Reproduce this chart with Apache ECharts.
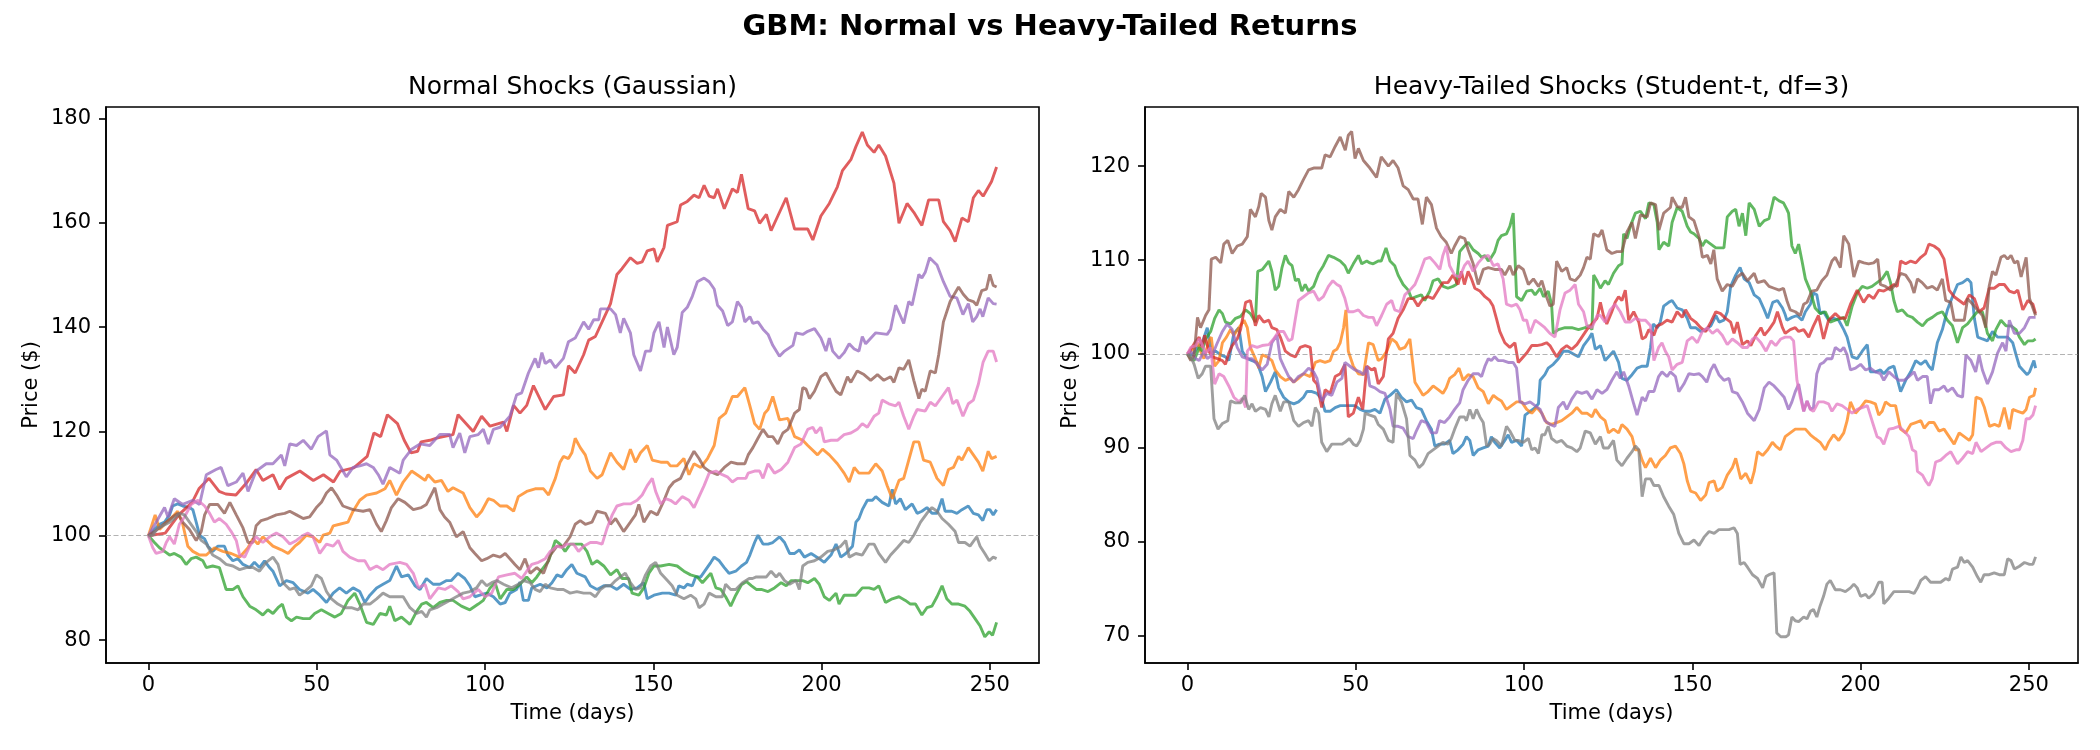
<!DOCTYPE html>
<html><head><meta charset="utf-8">
<script src="https://cdn.jsdelivr.net/npm/echarts@6/dist/echarts.min.js"></script>
<style>html,body{margin:0;padding:0;background:#fff}#c{width:2100px;height:750px}</style>
</head><body><div id="c"></div>
<script>
const dayTicks=[0,50,100,150,200,250];
const normalTicks=[80,100,120,140,160,180];
const heavyTicks=[70,80,90,100,110,120];
const seriesColors=['#1f77b4','#ff7f0e','#2ca02c','#d62728','#9467bd','#8c564b','#e377c2','#7f7f7f'];
const mainTitle='GBM: Normal vs Heavy-Tailed Returns';
const leftTitle='Normal Shocks (Gaussian)';
const rightTitle='Heavy-Tailed Shocks (Student-t, df=3)';

// Normal shocks: [day, price]
const nBlue=[[0,100],[1.8,101.2],[3.3,102.2],[4.8,102.6],[6.3,104],[7.2,105.7],[8.7,106.1],[10.2,105.7],[12.2,105.4],[13.2,105],[14.2,102.6],[15.2,100.1],[16.7,99.4],[17.7,98],[19.1,97],[20.6,98],[22.6,98],[23.6,96.3],[25.1,95.2],[26.6,95.6],[28.1,94.5],[30.1,93.9],[31.5,94.9],[33,93.9],[34.5,95.2],[36,93.9],[37,93.2],[39,90.4],[41,91.4],[43,91],[44.9,89.7],[47.4,89],[48.9,89.7],[50.9,88.6],[52.9,87.2],[54.9,89],[56.8,90],[58.8,89],[60.8,90],[62.8,89.3],[64.3,87.2],[65.8,88.6],[67.8,90],[69.7,90.7],[71.7,91.4],[73.7,94.2],[75.2,92.1],[77.2,92.5],[79.2,90.4],[80.7,89.7],[82.6,91.8],[84.6,90.7],[86.6,90.7],[88.6,91.4],[90,91.4],[92,92.8],[94,91.8],[95.5,90.4],[97,88.3],[98.5,88.6],[100.5,89],[102.5,88.3],[104.5,86.9],[106,87.2],[107.4,89],[109.4,89.7],[110.4,91.1],[111.4,87.6],[112.9,87.6],[113.9,90],[116.4,90.7],[118.4,90],[119.9,91],[121.4,92.5],[122.8,92.1],[124.3,93.5],[125.8,94.5],[127.3,92.8],[129.8,92.1],[131.3,90.4],[133.3,89.7],[135.3,90.4],[137.3,90.4],[139.2,89.7],[141.2,90.7],[143.2,89.7],[145.2,90],[147.2,91],[148.2,87.9],[150.2,88.6],[152.7,89],[154.7,89],[156.7,88.6],[157.6,90.4],[159.1,90],[160.1,90.7],[161.6,90.4],[162.6,92.1],[164.1,92.1],[165.6,93.5],[167.1,94.9],[168.1,95.9],[169.6,95.2],[171.1,93.9],[172.5,92.8],[174.5,93.2],[176.2,94.2],[177.7,94.9],[178.7,96.3],[180.1,98.7],[181.1,100.1],[182.6,98.4],[184.1,98.4],[185.5,98.7],[187.5,99.8],[189,98.7],[190.5,96.6],[192,96.6],[193.4,97.3],[194.9,95.9],[196.9,96.6],[199.3,95.6],[200.8,94.9],[202.8,96.3],[204.3,98.4],[205.7,95.9],[207.2,96.6],[209.2,98],[210.2,102.6],[211.1,103.3],[212.1,105],[213.6,106.8],[215.1,106.8],[216.1,107.5],[218,106.4],[220,105.7],[221,108.9],[222,106.1],[223.4,107.1],[224.9,105],[226.9,106.1],[228.4,104.3],[229.8,104.7],[231.3,105.4],[232.8,104.3],[234.3,104.3],[235.8,107.1],[236.7,104.7],[238.7,104.7],[240.2,104.3],[241.7,105],[243.6,105.7],[245.1,104.3],[246.6,104],[247.9,102.9],[249.1,105],[250,105],[251,104],[252,105]];
const nOrange=[[0,100],[1.3,102.6],[2,104],[3.3,101.2],[4.8,102.2],[6.7,103.3],[8.7,104.7],[10.2,102.2],[11.7,98],[13.2,97],[15.2,96.3],[17.2,96.3],[19.6,97.7],[22.1,97],[24.6,96.6],[27.1,95.9],[29.6,97.7],[31,99.4],[32.5,98.4],[34,99.8],[37,98],[39.5,97.3],[41.5,96.6],[43.5,98],[44.9,98.7],[46.9,100.1],[48.9,99.8],[50.9,98.7],[51.9,100.1],[53.9,100.5],[54.9,101.9],[56.8,102.2],[59.3,102.6],[60.8,104.7],[62.8,106.8],[64.8,107.8],[67.8,108.2],[70.3,109],[71.7,110.6],[73.7,107.8],[75.7,110.3],[78.2,112.4],[80.7,111.3],[82.2,110.6],[83.1,111.7],[85.1,110.3],[87.1,110.6],[89,108.5],[90.5,109.2],[93.5,108.2],[95.5,105.4],[97.5,103.6],[99,104.7],[101,107.1],[102.5,106.8],[104.5,105.7],[106.5,105.7],[108.5,104.7],[109.9,107.5],[112.4,108.5],[114.9,109],[117.4,109],[118.9,107.8],[120.9,111],[122.3,114.1],[123.3,115.2],[124.8,114.8],[125.8,115.9],[126.8,118.7],[128.3,116.9],[129.8,115.5],[131.3,112.4],[133.3,111],[134.8,111.7],[137.3,115.9],[139.2,114.1],[141.2,112.7],[143.2,116.6],[144.7,114.1],[146.2,115.9],[148.2,117.3],[149.7,114.5],[152.2,114.1],[154.2,114.1],[155.1,113.4],[157.1,113.4],[159.1,114.8],[160.6,111.7],[162.1,113.8],[164.1,113.1],[166.1,114.8],[168.1,117.3],[169.6,122.5],[171.5,123.5],[173.5,126.7],[175,126.7],[177.2,128.4],[178.7,124.9],[180.1,121.5],[181.6,120.4],[183.1,123.5],[184.1,124.2],[185.5,126.7],[187.5,122.2],[190,122.5],[192,119],[194.4,118.3],[195.9,117.3],[198.8,115.5],[200.3,116.6],[202.3,115.5],[204.7,113.8],[206.7,112],[208.2,110.3],[209.7,113.1],[211.1,112],[214.1,112],[216.1,113.8],[218,112.4],[219.5,109.6],[221,107.1],[223,110.6],[224.4,111],[225.9,114.5],[227.4,118],[228.9,118],[230.3,114.5],[232.3,114.1],[234.3,111],[236.2,109.6],[237.7,112.7],[239.2,113.1],[240.7,115.2],[241.7,114.5],[243.6,116.9],[245.1,115.5],[246.6,114.1],[247.9,112.4],[249.5,116.2],[250.5,114.8],[252,115.2]];
const nGreen=[[0,100],[1.8,98.7],[3.3,97.7],[4.8,97],[6.3,96.3],[7.7,96.6],[9.7,95.9],[11.2,94.5],[12.7,95.6],[14.2,95.9],[16.2,95.2],[17.2,93.9],[19.1,94.2],[21.1,93.9],[23.1,89.7],[25.1,89.7],[26.6,90.4],[28.1,88.3],[30.1,86.5],[32,85.8],[34,84.8],[35.5,85.8],[37,85.1],[38.5,86.2],[39.8,86.9],[41,84.4],[42.5,83.7],[44,84.4],[46,84.1],[47.9,84.1],[49.4,85.1],[51.4,85.8],[53.4,85.1],[55.4,84.4],[57.3,85.1],[59.3,87.6],[61.3,89],[62.8,86.9],[64.8,83.4],[66.8,83],[68.8,85.1],[70.7,84.8],[71.7,86.5],[73.2,83.7],[75.2,84.4],[77.7,83],[79.7,85.5],[81.2,86.9],[82.6,87.2],[84.6,86.2],[86.6,87.2],[88.6,87.6],[90.5,87.6],[93,86.5],[95.5,85.8],[98,86.9],[99.5,87.6],[101.5,90],[103,91],[104.5,87.9],[106.5,89.7],[108.5,89.7],[110.4,90.7],[112.4,92.1],[113.9,91],[115.4,92.1],[116.9,93.5],[118.9,95.2],[120.9,99.1],[122.3,98.4],[123.8,97],[125.3,98.4],[126.8,98.4],[128.7,98.4],[130.3,97],[131.8,94.5],[133.3,95.2],[135.3,94.2],[137.3,92.5],[139.2,93.5],[140.7,91.8],[142.7,91.8],[143.7,89],[145.7,88.6],[147.2,90],[148.7,92.8],[150.2,94.2],[152.2,94.2],[154.7,94.5],[157.1,94.2],[159.1,93.2],[161.1,92.5],[163.1,92.1],[164.6,91],[166.1,92.1],[167.1,92.8],[168.6,90],[170.1,89.7],[171.5,88.3],[173,86.5],[174.5,88.6],[176.2,90.6],[177.7,91.2],[179.2,90.4],[180.6,89.7],[182.1,89.7],[184.1,89.3],[186,90],[188,91],[189.5,90.4],[191,91.4],[192.9,91.4],[194.4,91.4],[195.9,91],[197.9,91.8],[199.3,90.7],[200.8,88.3],[202.3,87.6],[203.3,88.3],[204.3,89],[205.2,86.9],[206.7,88.6],[208.7,88.6],[210.2,88.6],[212.1,90],[214.1,90],[215.6,89.7],[217,90.4],[219,87.2],[221,87.9],[223,88.3],[224.9,87.6],[226.4,86.9],[227.9,86.9],[229.8,84.8],[231.3,86.2],[232.8,86.5],[234.3,88.3],[235.8,90.4],[237.2,87.9],[238.7,86.9],[240.7,86.9],[242.6,86.5],[244.1,85.5],[245.6,84.1],[247.1,82.7],[248.5,80.6],[249.8,81.6],[250.8,80.9],[252,83.4]];
const nRed=[[0,100],[5,100.5],[9,104],[13,106.4],[15,109],[18,111],[21,108.5],[23,108],[26,107.8],[29,110],[32,112.7],[34,110.6],[37,111.7],[39,108.9],[41,111],[45,112.4],[49,110.6],[52,111.7],[55,110.3],[57,112.4],[61,113],[65,115.2],[67,119.7],[69,119],[71,123.2],[74,121.5],[76,118.3],[78,115.9],[80,116.2],[81,118],[83.6,118.3],[85.6,118.7],[90.5,119.4],[92,123.2],[96.5,120],[99,122.9],[101.5,121],[105.5,121.8],[106.5,120],[108.5,125],[110.4,123.5],[112.4,125],[114.4,128.8],[117.9,124.2],[120.4,126.7],[123.3,127],[124.8,132.6],[126.8,131.2],[129.3,134.7],[130.8,137.5],[132.8,138.2],[134.8,141],[137.3,144.5],[139.2,150.1],[140.7,151.2],[143.2,153.3],[145.2,152.2],[146.7,152.5],[148.2,154.6],[150.2,155],[151.2,152.5],[153.2,155.3],[154.2,159.5],[157.1,160.2],[158.1,163.4],[160.1,164.1],[162.1,165.3],[163.6,164.8],[165.1,167.2],[166.6,165.1],[168.1,164.8],[169.1,166.5],[171.1,162.7],[173.5,166.5],[175,165.8],[176.2,169.3],[178.2,162.7],[180.1,162.3],[181.6,159.9],[183.6,161.6],[185,158.5],[187,161.3],[189.5,164.8],[192,158.8],[195.9,158.8],[197.4,156.7],[199.8,161.3],[202.3,163.7],[204.7,166.9],[206.2,170],[208.7,172.1],[210.2,174.6],[212.1,177.4],[213.6,174.9],[215.6,173.5],[217,174.9],[219,172.8],[221.5,167.6],[223,159.9],[225.4,163.7],[227.4,162],[229.8,159.5],[231.8,164.4],[234.8,164.4],[236.2,160.2],[238.2,158.5],[239.7,156.4],[241.7,160.9],[243.6,160.2],[245.1,164.8],[246.6,166.2],[248,165.1],[250.5,167.9],[252,170.7]];
const nPurple=[[0,100],[2.3,102.6],[4.8,105.4],[5.8,103.6],[7.7,107.1],[10.2,106],[13.2,106.8],[15.2,106],[17.2,111.7],[20.1,112.7],[21.6,113.1],[23.6,109.6],[26.1,110.3],[28.1,112],[29.6,108.5],[32,112.4],[35,113.8],[37,113.8],[39.5,115.5],[40.5,113.4],[42,117.6],[44,117.3],[46,118.3],[48.4,116.6],[50.4,119],[52.9,120.1],[53.9,115.5],[55.9,114.5],[58.8,111.3],[60.8,113.1],[62.8,113.4],[64.8,113.8],[66.8,113.1],[68.3,111.7],[69.7,109.9],[71.7,113.1],[74.7,112],[75.7,114.5],[78.2,116.6],[80.7,117.6],[83.6,117.3],[86.6,119.4],[89.5,119.4],[90.5,116.9],[92.5,119.7],[94,115.9],[95.5,119],[98,119.4],[99.5,120.4],[101,117.6],[102.5,120.4],[104.5,120.8],[107.4,122.9],[109.4,127],[110.9,127.4],[112.9,131.2],[114.9,134],[115.9,132.2],[116.9,135.1],[117.9,133],[119.4,133.7],[120.9,132.2],[123.3,134],[124.8,137.2],[126.8,137.9],[129.3,141],[130.8,139.6],[132.3,141.4],[133.8,141.4],[134.3,143.5],[137.3,143.5],[138.8,142.4],[140.2,138.9],[141.2,141.7],[143.2,138.9],[144.2,134.7],[146.2,131.6],[147.7,135.4],[149.2,135.4],[150.2,138.9],[151.7,141],[153.2,136.1],[154.2,140],[156.1,134.7],[157.1,136.1],[158.6,142.8],[160.1,143.8],[161.6,145.9],[163.1,148.7],[165.1,149.4],[166.6,148.7],[168.1,147.3],[169.1,144.2],[170.6,143.1],[172.1,140.3],[173.5,141],[175,144.9],[176.2,143.8],[177.2,141],[178.7,142],[179.6,140.7],[181.1,141],[182.6,139.6],[184.1,138.6],[185.5,136.5],[187.5,134.4],[189,135.4],[191.5,136.5],[192.4,138.9],[194.4,138.6],[195.9,139.2],[197.9,139.7],[199.8,137.9],[201.3,135.4],[202.3,137.9],[203.3,135.4],[205.2,134],[206.7,135.1],[208.2,136.8],[209.7,135.8],[211.1,135.4],[212.1,138.2],[213.1,136.8],[216.1,138.9],[219.5,138.6],[220.5,139.6],[222,144.2],[223,142.8],[224.4,140.7],[225.9,144.9],[226.9,144.2],[228.9,150.1],[229.8,149.4],[230.8,150.5],[232.1,153.3],[234.3,151.9],[236.2,148.7],[238.2,145.9],[240.2,145.6],[242,142.4],[243.6,144.5],[244.9,141],[246.1,142],[247.1,143.5],[247.9,142],[249.5,145.6],[251,144.5],[252,144.4]];
const nBrown=[[0,100],[1.8,100.8],[3.3,101.5],[5.3,102.6],[7.2,103.6],[8.7,104.3],[10.2,102.6],[12.2,101.2],[14.2,99.1],[15.7,100.8],[16.7,104],[18.2,106],[20.6,106],[22.6,104.3],[24.2,106.4],[26.1,104],[28.1,101.5],[29.6,98.7],[31,98.7],[32,101.9],[33.5,102.9],[35.5,103.3],[38,104],[40.5,104.3],[42,104.7],[44,104],[46,103.3],[47.9,103.6],[49.9,105.4],[51.4,106.4],[52.9,108.2],[54.4,109.2],[55.9,107.8],[57.8,105.7],[60.8,105],[63.8,104.7],[65.8,105],[67.8,102.2],[69.2,100.8],[70.7,102.9],[72.2,105.4],[74.2,107.1],[76.2,106.4],[78.7,105],[81.1,105.4],[82.6,106],[85.1,109.2],[86.6,105],[88,103.6],[89.5,102.6],[91.5,99.8],[93.5,100.8],[95.5,97.7],[97,96.6],[99,95.2],[100.5,95.6],[102.5,96.3],[104.5,95.9],[106,96.6],[107.4,95.6],[108.9,94.5],[110.4,93.5],[111.9,95.6],[113.4,92.8],[115.4,93.9],[117.4,92.8],[119.4,96.3],[121.4,98],[123.3,98],[125.3,99.8],[126.8,102.2],[128.3,102.9],[129.8,102.2],[131.8,102.6],[133.3,104.7],[135.8,104.3],[137.3,102.2],[138.8,103.3],[141.2,100.8],[143.2,102.6],[144.7,104],[145.7,106],[147.2,102.6],[149.2,104.7],[151.2,104],[153.2,106.8],[154.7,109.2],[156.1,110.3],[158.1,111],[160.1,113.8],[162.1,116.2],[163.6,114.8],[165.1,113.1],[166.6,112.4],[169.1,111.7],[171.1,113.1],[173.1,114.1],[175,113.8],[177.2,113.8],[178.2,115.5],[179.6,116.9],[181.1,118.7],[182.6,120.4],[184.1,119],[185.5,119],[187,117.6],[188.5,119.7],[190,120.4],[192,123.5],[193.4,124.2],[194.4,128.4],[195.4,128.1],[196.4,126.3],[197.9,127.7],[199.8,130.5],[201.3,131.2],[202.8,129.4],[204.3,127.7],[205.7,127],[207.7,130.5],[208.7,129.4],[210.6,131.6],[212.6,130.9],[214.6,129.8],[216.6,130.9],[218.5,129.8],[220.5,130.5],[221.5,129.4],[223,132.2],[224.4,131.9],[225.9,133.7],[227.4,129.8],[228.9,126.3],[229.8,128.1],[230.8,127.7],[232.3,131.6],[233.8,131.2],[234.8,134.7],[236.2,141],[238.2,144.9],[239.7,146.6],[240.7,147.7],[242.1,146.3],[243.6,145.2],[245.1,144.9],[246.1,144.2],[247.6,147],[249,147.3],[250,150.1],[251,148],[252,147.7]];
const nPink=[[0,100],[1.3,97.7],[2.3,96.6],[4.3,97],[5.3,98.7],[6.3,99.8],[7.7,98.4],[9.2,102.2],[10.7,103.6],[12.7,106],[14.7,106.8],[16.7,105.7],[18.2,104.3],[19.6,102.6],[21.1,103.3],[23.1,102.2],[24.6,100.8],[26.1,99.1],[27.1,96.3],[28.6,95.9],[30.1,98],[32,99.8],[34,98.7],[36,99.8],[38,100.5],[40,99.8],[42,98.4],[44,99.1],[46,100.1],[47.4,100.5],[48.9,99.8],[50.9,96.6],[52.9,98.4],[54.9,98],[56.4,99.1],[57.8,97],[59.8,95.9],[62.3,95.2],[64.3,95.2],[65.8,93.5],[67.8,94.2],[69.7,93.5],[71.7,94.5],[74.7,94.9],[76.7,94.5],[78.7,92.8],[80.2,90],[82.2,90.7],[83.6,87.9],[86.1,90],[88.1,89.7],[90,90.4],[92,89.3],[93.5,87.9],[95.5,88.3],[98,89.7],[100,88.3],[102,89],[104,92.1],[106.5,92.5],[108.9,92.8],[110.9,91.8],[112.4,93.2],[113.9,94.5],[115.9,94.9],[117.9,95.6],[119.4,97],[121.4,98],[122.8,97.7],[124.3,98.4],[126.3,98.4],[127.8,97],[129.3,98],[131.3,98.7],[133.3,98.7],[134.8,98.4],[136.3,101.5],[137.8,104],[139.2,105.7],[141.2,106.1],[143.2,106.1],[145.2,106.8],[146.7,107.8],[148.2,109.6],[149.7,111],[150.7,108.5],[152.2,106.1],[153.7,107.1],[155.1,106.8],[156.6,106.1],[158.6,107.5],[160.6,106.8],[162.1,105.4],[163.6,107.5],[165.1,109.6],[166.6,112],[168.6,112.4],[170.5,111.7],[172,111.3],[173.5,110.3],[175,111],[177.5,111],[178.2,112],[180.1,112.4],[181.6,112.4],[182.6,111],[184.1,113.8],[186,112],[188,112.7],[190,114.1],[192,116.9],[193.9,117.6],[195.9,120.4],[197.4,120.8],[198.3,119.7],[199.8,120.8],[200.8,118],[202.8,118.3],[204.7,118.3],[206.7,119.4],[208.7,119.7],[210.6,120.4],[212.1,121.5],[213.6,120.8],[215.6,122.9],[217,123.5],[218,126],[220,125.3],[222,124.9],[223,125.6],[224.4,122.9],[225.9,120.4],[227.4,122.9],[228.4,124.2],[230.8,123.9],[232.3,125.6],[233.8,124.9],[235.8,126.7],[237.7,128.4],[239,125.3],[240.2,126],[242,122.9],[243.6,125.3],[245.1,126],[246.6,129.1],[248,133.3],[249.5,135.4],[251,135.4],[252,133.3]];
const nGray=[[0,100],[1.3,100.1],[2.8,101.5],[4.3,101.9],[6.3,102.6],[7.7,103.3],[9.2,104.3],[10.7,104],[12.2,102.6],[14.2,100.8],[15.7,99.1],[17.2,98.4],[19.1,96.3],[21.1,95.6],[23.1,94.5],[25.1,94.2],[27.1,93.5],[29.1,93.9],[31.1,93.9],[33,93.2],[35,94.9],[37,95.9],[38.5,94.5],[40,91],[42,89.7],[43.5,90],[44.9,88.6],[46.4,89.3],[48.4,90.4],[49.9,92.5],[51.4,91.8],[52.9,89.3],[54.4,87.9],[56.3,86.9],[58.3,86.2],[60.3,86.2],[62.3,85.8],[63.8,86.9],[65.8,86.9],[67.8,87.9],[69.7,89],[71.7,88.3],[73.7,88.3],[75.7,88.3],[77.7,86.2],[79.7,85.1],[81.2,85.5],[82.6,84.4],[83.6,85.8],[85.6,86.2],[87.6,86.9],[89.5,87.6],[91.5,88.3],[93.5,89],[95.5,89.3],[97.5,90],[99,91.4],[100.5,90.4],[102,91],[103.5,91.4],[105.5,90.7],[107.9,90],[109.9,90.7],[111.4,91.4],[113.4,91],[114.9,89.7],[116.4,89.3],[117.9,90.7],[119.4,90],[121.4,89.7],[123.3,89.7],[125.3,89],[127.3,89.3],[129.3,89],[131.3,89],[132.8,88.3],[134.3,89.7],[135.8,90.4],[137.3,90.4],[138.8,91.4],[140.2,92.1],[141.7,92.8],[143.2,91],[144.7,89.7],[146.2,90],[147.7,92.5],[149.2,94.2],[150.7,94.9],[152.2,92.8],[154.2,91.4],[155.6,90.4],[157.1,88.6],[159.1,87.9],[161.1,88.6],[162.6,87.9],[163.6,86.2],[165.1,86.9],[166.6,89],[168.6,88.3],[170.5,88.3],[171.5,90.7],[173,89.7],[174.5,89.7],[176.5,91],[178.5,91.8],[179.5,91.8],[180.6,92.1],[182.1,92.1],[183.6,92.1],[185,93.2],[186.5,92.1],[187.5,92.8],[189,91.4],[190.5,90.7],[192.4,91.4],[193.4,89.7],[194.4,94.2],[195.9,94.9],[197.9,95.2],[199.8,95.9],[201.8,97],[203.8,97.3],[205.7,98],[207.2,99.1],[208.2,95.9],[210.2,96.6],[212.1,96.3],[214.1,98.4],[215.6,98.4],[217,96.6],[219,94.9],[220.5,96.3],[222.5,97.7],[224.4,99.1],[225.9,98.7],[227.4,100.1],[229.4,102.6],[231.3,104.3],[232.8,105.4],[234.3,104.7],[235.8,103.3],[237.7,102.2],[239.7,100.8],[240.7,98.7],[242.6,98.7],[244.1,98],[246.1,99.8],[247.1,98],[248.5,96.6],[249.8,95.2],[251,95.9],[252,95.6]];

// Heavy-tailed shocks: [day, price]
const tBlue=[[0,100],[1.5,99.9],[3,100.7],[4.4,101.2],[5.9,102.8],[7.1,100.1],[8.4,100.3],[9.9,99.9],[11.3,99.7],[12.3,99.3],[13.8,102.2],[15.3,102.8],[16.3,100.3],[17.8,99.5],[19.2,99.3],[20.7,99.1],[22.2,97.6],[23.2,96],[24.7,97],[26.1,98.1],[27.1,96.4],[28.6,95.4],[30.1,94.9],[31.6,94.7],[33,94.9],[34.5,95.4],[35.5,96],[37,96],[38.5,95.8],[39.9,95.2],[40.9,93.9],[42.4,93.9],[43.9,94.3],[45.4,94.5],[46.8,94.5],[48.3,94.5],[49.8,94.5],[51.3,94.1],[52.8,93.9],[54.2,93.9],[55.7,94.1],[57.2,93.7],[58.7,95.2],[60.2,95.6],[62.1,96.2],[63.6,95.4],[65.1,94.9],[66.6,95.1],[68,94.3],[69.5,94.1],[71,92.9],[72.5,92],[73.5,90.2],[74.9,90.4],[76.4,90.4],[77.9,90.8],[78.9,89.4],[80.4,89.8],[81.9,90.4],[82.9,91.2],[83.9,90.8],[84.9,89.2],[86.4,89.8],[87.9,90],[89.4,90.2],[90.3,91.2],[91.3,90.6],[92.8,90],[94.3,90.8],[95.3,91.4],[96.3,90.6],[97.8,90.8],[99.3,90.2],[100.3,93.5],[101.8,93.9],[103.3,94.3],[104.3,94.7],[104.8,97.2],[106.2,97.8],[107.2,98.5],[108.7,98.9],[110.2,99.5],[111.7,100.3],[113.2,100.3],[115.2,99.9],[116.2,99.7],[117.7,100.9],[119.2,101.6],[120.2,102.2],[121.2,100.5],[122.7,100.9],[124.1,99.3],[125.6,99.9],[126.6,100.3],[128.1,99.1],[129.1,97.4],[130.6,97.2],[132.1,97.8],[133.6,98.5],[135.1,98.7],[136.6,98.7],[137.6,100.7],[138.4,103.2],[139.6,102.8],[140.5,103.4],[141.5,105.1],[143,105.5],[144,105.7],[145.5,104.9],[147,104.7],[148.5,103.8],[149.5,102.8],[151,102.8],[152.5,102.4],[154,102.6],[155.5,103],[157,104.1],[158,103.4],[159.4,103.6],[160.4,104.5],[161.4,107.2],[162.9,108.4],[164.2,109.2],[165.4,108],[166.9,107.6],[168.4,106.3],[169.9,105.9],[171.4,104.7],[172.4,103.8],[173.9,105.5],[175.3,105.7],[176.8,104.9],[177.6,104.2],[178.1,103.6],[179.6,103.9],[181.1,104.1],[182.6,103.6],[183.6,104.5],[185.1,105.3],[186,106.5],[187,106.3],[188,104.3],[189,104.5],[190.5,103.6],[192,103.8],[193.5,103.6],[195,102.6],[196,101.8],[197.5,99.7],[199,99.5],[200.5,100.3],[202,101],[202.9,98.1],[204.4,98.1],[205.9,98.3],[206.9,97.9],[208.4,98.5],[209.9,98.7],[211.9,96],[213.4,97.2],[214.9,98.1],[216.4,99.3],[217.9,98.9],[219.3,99.3],[220.3,98.7],[221.3,98.3],[222.8,101.2],[224.3,102.6],[225.8,104.7],[227.3,106.1],[228.8,107.4],[230.3,107.6],[231.8,108],[232.8,107.6],[233.8,103.8],[234.8,101.8],[236.2,101.6],[237.7,101.4],[239.2,102.4],[240.7,101.8],[242.2,101.8],[243.7,101.8],[245.2,101.2],[246.2,99.9],[247.2,98.7],[248.2,98.3],[249.5,97.8],[250.2,98.1],[251.5,99.3],[252,98.5]];
const tOrange=[[0,100],[1,100.3],[2,100.7],[3,101.2],[3.9,100.3],[4.9,99.5],[6.4,101.4],[7.1,101.8],[8.1,98.7],[9.4,99.3],[10.4,101.2],[11.6,101.8],[12.8,102.6],[13.8,102],[15.3,102.8],[16.8,103.6],[17.8,102.8],[18.7,100.7],[20.2,99.5],[21.2,98.5],[22.2,99.9],[23.7,99.7],[25.1,99.3],[26.1,98.3],[27.6,97.6],[29.1,97.2],[30.6,97.4],[31.6,97],[33,97.4],[34.5,97.9],[36.5,97.6],[38,99.1],[39.4,99.3],[40.9,99.1],[42.4,99.3],[43.4,100.3],[44.4,100.5],[45.4,101.2],[46.4,102.8],[47.1,104.7],[47.8,100.3],[49.3,98.7],[50.8,97.9],[52.3,97.8],[53.8,101.2],[55.2,101],[56.7,99.3],[57.7,99.5],[59.2,100.3],[60.7,101.6],[62.1,101.2],[63.1,100.5],[64.6,100.7],[66.1,101.6],[67.6,97],[69,96.2],[70,95.6],[71.5,96],[73,96.6],[74.5,96.2],[75.9,95.8],[76.9,96.4],[77.9,97.4],[79.4,97.8],[80.7,98.5],[81.9,97.2],[83.4,97.8],[84.9,97.6],[86.4,96.4],[87.9,96],[89.4,94.7],[90.9,95.6],[92.3,95.2],[93.3,95],[94.8,94.1],[96.3,94.5],[97.8,94.9],[99.3,94.9],[100.8,94.1],[102.3,93.7],[103.8,94.3],[105.3,93.7],[106.7,92.7],[108.2,92.5],[109.7,92.7],[111.2,92.9],[112.7,93.3],[114.2,93.7],[115.7,94.3],[117.2,93.7],[118.7,93.7],[120.2,93.3],[121.2,94.1],[122.7,93.3],[124.1,92.9],[125.1,91.6],[126.6,92],[128.1,91.6],[129.1,92.5],[130.6,92],[132.1,91.2],[133.1,89.8],[134.1,89.8],[135.1,88.7],[136.1,87.9],[137.6,88.9],[139.1,87.9],[140.5,88.7],[142,89.2],[143.5,90],[145,90.2],[146.5,89.4],[147.5,88.3],[148.5,86.5],[149.5,85.4],[151,85.2],[152.5,84.4],[154,85],[155,86.3],[156.5,86.5],[157.4,85.4],[158.9,85.8],[160.4,87.1],[161.9,87.9],[162.9,88.9],[164.4,86.7],[165.9,87.3],[167.4,86.2],[168.4,87.5],[169.4,89.6],[170.9,89.2],[172.4,89.8],[173.8,90.6],[174.8,90.2],[176.2,89.8],[177.6,91.2],[179.1,91.6],[180.6,92],[182.1,92],[183.6,92],[185.1,91.4],[186.5,91],[188,90.6],[189.5,89.8],[190.5,90.6],[192,91.4],[193.5,90.8],[195,91.6],[196,92.9],[197,94.9],[198.5,93.7],[200,94.3],[201.5,95],[202.9,94.9],[204.4,94.7],[205.4,93.5],[206.4,93.9],[207.4,94.9],[208.9,94.5],[210.4,94.5],[211.9,92],[213.4,91.6],[214.9,92.5],[216.4,92.7],[217.9,92.9],[218.9,92.1],[220.3,92.7],[221.8,92.7],[223.3,91.8],[224.8,92],[226.3,91.2],[227.8,90.4],[229.3,91.6],[230.8,91.2],[232.3,90.8],[233.3,91.4],[234.3,95.4],[235.8,95.2],[236.8,94.3],[238.3,92.3],[239.8,92.5],[241.2,92.3],[242.7,94.3],[244.2,92],[245.2,94.1],[246.7,93.9],[248.2,93.7],[249.2,94.1],[250.2,95.4],[251.5,95.6],[252,96.4]];
const tGreen=[[0,100],[1,99.5],[2,99.3],[3.5,100.7],[4.4,100.3],[5.4,101.6],[6.9,102.4],[8.1,103.8],[9.4,104.7],[10.4,104.3],[11.3,103.4],[12.8,103.2],[14.3,103.8],[15.8,104],[17.3,104.7],[18.7,104.3],[20.2,103.4],[20.9,108.8],[22.3,109],[24.2,109.9],[25.1,108.8],[26.1,106.8],[27.1,107.2],[28.1,109.2],[29.1,110.5],[30.1,109.7],[31.1,109.4],[32.1,107.8],[33,108],[34,106.7],[35,107.4],[36,106.7],[37.5,107.2],[39,108.6],[40.4,109.4],[41.9,110.5],[43.4,110.3],[45.4,109.9],[46.8,109.4],[47.8,108.6],[49.3,109.6],[50.8,110.5],[51.8,109.6],[53.3,109.9],[54.2,109.7],[55.2,109.6],[56.7,109.9],[57.6,109.9],[59,111.3],[60.2,109.9],[61.6,109.4],[62.6,108.4],[64.1,107.4],[65.6,106.8],[66.6,105.9],[68,106.1],[69.5,106.3],[70.5,105.7],[72,106.7],[73,107.8],[74.5,108],[76,107.2],[77.4,107],[78.9,107.2],[79.9,107.4],[80.9,110.9],[82.3,111.5],[83.4,111.9],[84.9,111.1],[86.4,110.7],[87.4,110.3],[88.4,110.5],[89.4,109.9],[90.3,110.3],[91.3,110.9],[92.3,112.1],[93.3,112.6],[94.8,112.8],[95.8,113.6],[96.8,115],[97.8,106.1],[99.3,105.7],[100.8,106.7],[102.3,106.8],[103.3,106.3],[104.8,107],[105.8,106.1],[107.2,106.7],[108.2,105.3],[108.7,102.2],[110.2,102.6],[112.2,102.8],[114.2,102.8],[116.2,102.6],[118.2,102.8],[119.2,103],[120.2,102.6],[120.7,108.4],[121.7,107.8],[122.7,107],[124.1,107.8],[125.1,107.4],[126.6,108.6],[128.1,109.4],[129.1,109.6],[129.6,112.8],[130.6,112.3],[131.6,113.6],[133.1,115],[134.6,115.2],[136.1,114.4],[137.1,116.1],[138.6,115.9],[139.6,114],[140.1,111.1],[141.5,111.9],[143,111.5],[144,114],[145.5,115.6],[147,115.2],[148.5,113.6],[149.5,113],[150.5,112.8],[152,112.3],[153,111.5],[154,112.1],[155.5,111.7],[157,111.3],[159.4,111.3],[160.4,114.6],[161.9,115.2],[162.9,115.4],[163.9,113.6],[164.9,115],[165.9,112.6],[166.9,116.1],[168.4,115.4],[169.9,113.6],[171.4,114.2],[172.8,114.4],[174.3,116.7],[175.8,116.3],[177.1,116.1],[178.1,115.4],[178.6,115],[179.6,111.5],[180.6,110.7],[181.6,111.7],[182.6,109.9],[183.6,108],[185.1,106.7],[186.5,104.9],[188,104.3],[189.5,104.5],[191,103.4],[192.5,103.6],[194,103.8],[195,103.9],[196,103],[197.5,105.1],[199,106.5],[200.5,107.2],[202,107],[203.4,107.2],[204.9,107.6],[206.4,108],[207.9,108.8],[208.9,107.6],[209.9,105.7],[210.9,104.5],[212.4,104.7],[213.9,104.1],[215.4,103.9],[216.9,103.4],[218.4,103],[219.8,103.6],[221.3,103.9],[222.8,104.3],[224.3,104.5],[225.8,103.6],[227.3,103],[228.8,101.2],[230.3,102.8],[231.8,103.2],[233.3,103.9],[234.7,104.5],[236.2,104.5],[237.7,102.2],[239.2,101.4],[240.2,102.6],[241.7,103.6],[243.2,103],[244.7,103],[246.2,102.6],[247.2,101.8],[248.7,101],[249.7,101.4],[251.2,101.4],[252,101.6]];
const tRed=[[0,100],[1,100.5],[2.2,101.2],[3.5,101.8],[4.4,100.7],[5.1,102],[6.4,100.3],[7.4,99.7],[8.9,99.5],[10.4,99.3],[11.3,98.9],[12.3,100.1],[13.3,100.9],[14.8,101.6],[15.8,102.6],[17.3,105.5],[18.7,105.7],[20.2,103],[21.2,104.1],[22.7,103.4],[24.2,103.6],[25.1,102.8],[26.6,102.6],[27.6,101.8],[29.1,100.3],[30.6,99.9],[32.1,99.7],[33.5,100.7],[35,100.9],[36.5,100.7],[37.5,97.2],[38.5,96.8],[39.9,94.3],[40.9,96.2],[42.4,95.8],[43.9,97.6],[45.4,97.9],[46.8,98.9],[47.8,93.3],[49.3,93.7],[50.8,95.4],[52.1,94.1],[53.3,98.7],[54.7,98.3],[55.7,98.5],[56.7,96.8],[58.2,97.6],[59.7,101.6],[61.1,102.2],[62.6,103.8],[64.1,104.7],[65.6,105.9],[67.1,105.9],[68.5,105.1],[70,105.9],[71.5,106.1],[73,105.9],[74.5,106.8],[75.9,107.6],[77.4,107.6],[78.9,108.4],[80.4,107.4],[81.4,108.8],[82.3,107.4],[83.4,108.8],[84.4,108],[85.4,107],[86.9,106.7],[88.4,106.1],[89.8,105.7],[90.8,105.1],[91.8,103.8],[92.8,102.4],[94.3,101.2],[95.8,100.7],[97.3,101.2],[98.3,99.1],[99.3,99.5],[100.8,100.1],[102.3,100.9],[103.8,100.9],[105.3,101],[106.7,101.2],[107.7,100.9],[108.7,100.3],[109.7,99.7],[111.2,100.5],[112.7,100.9],[114.2,100.5],[115.7,101],[117.2,101.8],[118.7,102.6],[120.2,103.2],[121.7,103.8],[122.7,105.5],[123.6,104.1],[124.6,103.2],[126.1,104.5],[127.1,105.5],[128.1,106.1],[129.1,105.7],[130.1,106.8],[131.1,103.6],[132.6,104.5],[134.1,103.4],[135.1,101.6],[136.1,101.8],[137.1,102.6],[138.6,102],[139.6,103],[141,103.2],[142.5,103.6],[144,103.4],[145.5,104.5],[147,103.9],[148,104.7],[149.5,103.8],[151,103.4],[152.5,102.8],[154,102.4],[155.5,103.4],[157,104.5],[158.4,104.3],[159.9,103.8],[161.4,103.4],[162.4,102.2],[163.4,103.4],[164.9,101],[166.4,101.4],[167.4,100.9],[168.9,102],[170.4,102.8],[171.4,102],[172.8,102.6],[174.3,103.4],[175.3,104.5],[176.8,102.8],[177.6,102.2],[179.1,102.6],[180.6,102.8],[181.6,102.4],[183.1,102.6],[184.6,101.8],[186,103],[187.5,104.1],[189,101.6],[190.5,103.6],[192.5,104.3],[194,103.8],[195.5,103.8],[197,105.3],[199,106.8],[200.9,105.5],[202.4,106.3],[203.9,105.9],[205.4,106.8],[206.9,106.7],[208.4,107],[209.9,107.4],[210.9,107.2],[211.9,109.9],[213.4,109.6],[214.9,109.9],[216.4,109.7],[217.9,110.3],[219.3,110.7],[220.3,111.7],[221.8,111.5],[223.3,111.1],[224.8,110.1],[226.3,106.8],[227.8,106.1],[229.3,105.7],[230.8,105.3],[232.3,106.3],[233.8,105.9],[235.2,104.5],[236.7,104.9],[238.2,107],[239.7,107],[241.2,107.4],[242.7,107.4],[244.2,106.7],[245.7,106.5],[246.7,106.8],[248.2,104.7],[249.7,105.7],[251.2,105.3],[252,104.3]];
const tPurple=[[0,100],[1,100.3],[2.5,99.5],[3.5,99.3],[4.9,100.3],[5.9,99.5],[7.4,99.9],[8.9,101.2],[10.4,102.4],[11.8,103.2],[13.3,102.6],[14.8,100.7],[16.3,99.7],[17.8,99.5],[19.2,99.5],[20.7,98.9],[22.2,98.3],[23.7,98.9],[25.1,101.2],[26.6,102],[27.6,99.5],[28.6,98.7],[30.1,97.6],[31.6,97],[33,97.6],[34.5,97.9],[36,98.5],[37.5,98.1],[38.5,97.4],[39.9,95],[41.4,95.8],[42.9,95.6],[44.4,97],[45.9,97.4],[46.8,99.1],[48.3,98.7],[49.8,98.3],[51.3,98.1],[52.3,97.8],[53.3,98.7],[54.2,96.6],[55.7,96.4],[57.2,96],[58.7,95.8],[60.2,94.1],[61.1,92.3],[62.6,92.3],[64.1,92.1],[65.6,91.2],[67.1,91],[68,91.8],[69.5,92.9],[71,92.7],[72.5,91.6],[74,91.6],[74.9,92.9],[76.4,92.7],[77.9,93.3],[79.4,94.1],[80.9,94.8],[81.9,96.2],[83.4,97.2],[84.9,97.9],[86.4,97.9],[87.4,97.6],[88.4,98.7],[89.4,99.5],[90.3,99.3],[91.3,99.7],[92.3,99.3],[93.8,99.3],[95.3,99.1],[96.8,99.1],[97.8,98.5],[98.8,94.9],[100.3,94.7],[101.8,94.9],[103.3,94.5],[104.8,94.1],[106.2,92.9],[107.7,92.5],[109.2,92.3],[110.2,94.3],[111.7,94.9],[112.7,94.1],[114.2,95.2],[115.7,96],[117.2,95.8],[118.7,96],[120.2,95.2],[121.7,96.2],[123.2,95.8],[124.6,96.2],[126.1,97.2],[127.6,98.1],[128.6,97.4],[129.6,98.1],[131.1,96.6],[132.6,94.7],[133.6,93.5],[135.1,95.4],[136.1,95],[137.1,96],[138.6,96],[140,97.6],[141,98.1],[142.5,97.6],[143.5,98.1],[145,97.6],[146,96],[147.5,96.8],[149,97.9],[150.5,97.8],[152,97.9],[153,97.6],[154.3,97],[155.5,98.3],[156.5,98.9],[157.9,97.8],[159.4,97.2],[160.9,97.4],[161.9,96],[163.4,95.8],[164.9,94.9],[166.4,93.7],[168.4,92.9],[169.9,94.1],[171.4,96.4],[172.8,97],[174.3,96.6],[175.8,96],[177.3,95.4],[178.6,94.1],[179.6,94.9],[180.6,96],[181.6,96.8],[183.1,93.9],[184.1,95],[185.1,94.1],[186,94.3],[187,97.9],[188,98.9],[189,99.1],[190,99.5],[191.5,99.5],[192.5,100.7],[194,100.3],[195,100.7],[196,99.9],[197,98.3],[198.5,98.5],[200,98.9],[201.5,98.3],[202.9,98.5],[204.4,98.1],[205.9,97.9],[206.9,97.2],[208.4,98.1],[209.9,97.6],[211.4,97.2],[212.9,97.2],[214.4,97.6],[215.9,98.1],[216.9,97.2],[218.4,97.6],[219.8,97.6],[220.8,94.7],[221.8,96.2],[223.3,96.2],[224.8,96.6],[225.8,96],[227.3,96.4],[228.8,95.6],[230.3,95.4],[231.3,99.9],[232.8,99.3],[234.2,98.1],[235.2,99.9],[236.2,98.3],[237.7,96.8],[239.2,98.1],[240.7,100.1],[242.2,101.2],[243.2,100.3],[244.2,103.6],[245.7,102.2],[247.2,102.2],[248.7,102.8],[250.2,103.9],[252,103.9]];
const tBrown=[[0,100],[1,99.3],[2,99.9],[3,103.9],[3.9,102.8],[5.4,104.1],[6.4,104.7],[7.1,110.1],[8.4,110.3],[9.9,109.7],[10.8,111.7],[12,112.1],[13.3,110.7],[14.8,111.5],[16.3,111.7],[17.8,112.5],[18.7,115.4],[20.2,114.6],[21.2,115.7],[21.9,117.1],[23.2,116.7],[24.2,114.2],[25.1,113.2],[26.1,114.6],[27.6,115.4],[29.1,115],[30.1,117.3],[31.6,116.7],[33,117.5],[34.5,118.6],[36,119.6],[37.5,119.8],[39.9,119.8],[40.9,121.2],[42.4,121],[43.9,122.1],[45.4,123.1],[46.9,121.7],[47.8,123.3],[48.8,123.7],[49.8,120.8],[50.8,121.9],[52.3,120.6],[54.2,119.8],[56.2,118.8],[57.6,121],[59.7,120],[61.1,120.6],[62.6,119.8],[64.1,117.9],[65.6,117.5],[67.1,116.5],[68.5,116.5],[69.8,113.8],[71,116.7],[72.5,115.9],[74,113.4],[75.4,112.5],[76.9,111.9],[78.4,110.7],[79.4,111.5],[80.9,112.5],[82.4,112.3],[83.4,111.1],[84.9,109.6],[86.4,107.4],[87.9,109],[89.4,109.2],[91.3,109],[93.3,109],[94.3,108.4],[95.8,109.4],[96.8,108.4],[98.3,109.4],[99.8,109],[101.3,107.4],[102.8,108],[104.3,107.2],[105.3,107.8],[106.7,106.1],[107.7,105.1],[108.7,105.3],[109.7,109.9],[111.2,108.8],[112.7,109.2],[113.7,108],[115.2,107.8],[116.7,108.4],[117.7,109.2],[118.7,110.3],[119.7,110.1],[120.7,112.8],[122.2,112.5],[123.2,113.2],[124.6,111.1],[126.1,110.7],[127.6,110.9],[129.1,110.9],[130.6,113],[132.1,114],[133.1,112.3],[134.6,114.8],[136.6,114.6],[137.6,116.1],[139.1,115.9],[140.1,113.2],[141.5,115],[143.5,115.6],[144,116.7],[145.5,115.7],[147,115.6],[148,116.7],[149,114.6],[150.5,114.2],[152,112.5],[153,110.3],[154.5,110.5],[155.5,109.6],[156.4,111.1],[157.4,108],[158.9,106.7],[160.4,107.4],[161.9,107.2],[163.4,108.2],[164.9,108.6],[166.4,107.8],[168.4,108.6],[169.4,107.6],[171.4,107.8],[172.8,107.2],[174.3,107],[175.8,106.8],[177.1,107],[178.1,105.7],[179.1,104.7],[180.6,104.5],[182.1,104.1],[183.1,105.3],[184.1,105.5],[185.5,106.7],[187,106.8],[188.5,107.8],[190,108.4],[191.5,109.9],[192.5,110.3],[194,109.2],[195,112.6],[196.5,111.7],[198,108.2],[199.5,109.9],[201,109.7],[202.4,109.6],[203.9,109.7],[205.1,110.1],[205.9,107.4],[207.4,107.2],[208.9,106.8],[210.4,107.4],[211.9,108.6],[213.4,108.4],[214.9,107.6],[215.9,106.5],[216.9,108],[218.3,107.6],[219.8,107],[221.3,107.2],[222.8,106.8],[224.3,108],[225.3,105.7],[226.8,105.5],[227.8,103.6],[229.3,103.6],[230.8,103.6],[231.8,105.9],[233.3,105.3],[234.7,104.7],[236.2,104.1],[237.2,102.8],[238.2,107.2],[239.2,108.8],[240.2,108.4],[241.7,110.3],[242.7,110.5],[243.7,110.1],[244.7,110.5],[245.7,109.7],[246.7,109.9],[247.7,108.2],[249.2,110.3],[250.2,105.9],[251.2,104.9],[252,104.1]];
const tPink=[[0,100],[1,100.7],[2.5,100.9],[3.5,101.6],[4.4,101],[5.4,100.1],[6.9,100.7],[8.1,96.8],[9.4,97.9],[10.8,97.6],[12.3,96.6],[13.8,95.4],[15.3,94.9],[16.3,95.3],[17.3,94.3],[17.8,100.3],[19.2,100.9],[20.7,100.7],[22.2,100.9],[24.2,101],[25.6,101.6],[27.1,102.4],[28.6,102.4],[30.1,101.4],[31.1,101.6],[32.1,103.8],[33,105.7],[34.5,106.1],[36,106.5],[37.5,106.7],[39,105.7],[40.4,106.1],[41.9,107.2],[43.2,107.8],[44.4,107.4],[45.4,107.2],[46.8,105.9],[47.8,104.5],[49.3,104.5],[50.8,104.7],[52.3,104.1],[53.8,103.9],[55.2,103.9],[56.2,103],[57.7,104.1],[59.2,105.3],[60.7,105.7],[61.6,104.7],[63.1,104.5],[64.6,106.3],[66.1,106.8],[67.6,107.4],[69,108.6],[70.5,110.1],[72,110.3],[73.5,109.7],[75,109],[75.9,110.5],[76.9,111.5],[77.9,109.4],[79.4,108.4],[80.9,108.2],[82.3,109.4],[83.4,109.9],[84.9,108.8],[86.4,109.7],[87.9,110.3],[89.4,110.5],[90.9,109.4],[92.3,109.6],[93.8,108],[94.8,105.3],[96.3,105.1],[97.8,105.3],[98.8,104.7],[99.8,103.6],[100.8,103.6],[101.8,102.2],[103.3,103.6],[104.8,103.2],[106.2,102.8],[107.7,102.2],[109.2,101.8],[110.7,104.7],[112.2,106.5],[113.7,106.8],[115.2,107.4],[116.2,105.3],[117.7,104.5],[118.7,103],[120.2,102.8],[121.7,104.1],[122.7,104.1],[124.1,103.4],[125.6,104.7],[127.1,105.3],[128.6,104.5],[130.1,103.4],[131.6,103.4],[133.1,103.8],[134.6,103.6],[136.1,103.6],[137.6,103],[138.6,99.3],[140,100.7],[141,101.2],[142,100.3],[143,99.7],[144,98.3],[145.5,98.9],[147,99.1],[148.5,101.4],[150,101.8],[151.5,101.2],[153,102.4],[154.5,102.8],[156,102.2],[157.4,102.6],[158.9,102],[160.4,101],[161.9,101.6],[163.4,101.2],[164.9,100.7],[166.4,100.7],[167.9,101.6],[168.9,101.8],[170.4,101.2],[171.9,100.3],[173.4,101.4],[174.8,100.9],[176.3,101.6],[177.6,101.8],[179.1,101.8],[180.1,101.4],[181.1,97.2],[182.1,95.4],[183.1,93.9],[184.1,95],[185.1,94.1],[186,93.9],[187.5,94.9],[189,94.9],[190.5,94.7],[191.5,93.9],[193,94.7],[194.5,94.5],[196,94.1],[197.5,93.7],[199,94.1],[200.5,94.3],[202,94.5],[203.4,92.9],[204.9,91.2],[205.9,91],[206.9,90.4],[208.4,92],[209.9,92.1],[211.4,92.3],[212.9,91.8],[214.4,91.2],[215.4,89.8],[216.4,89.6],[216.9,87.5],[218.4,87.1],[219.3,86.5],[220.3,86],[221.3,86.7],[222.3,88.5],[223.8,88.7],[225.3,89.2],[226.8,89.6],[228.8,88.3],[230.3,88.9],[231.8,89.6],[233.3,89.4],[234.3,90.6],[235.8,89.6],[237.3,90],[238.8,90.4],[240.2,90.6],[241.7,90.6],[243.2,90],[244.7,89.6],[246.2,89.8],[247.2,89.8],[248.2,90.8],[249.2,93.1],[250.2,93.1],[251.2,93.5],[252,94.5]];
const tGray=[[0,100],[1,99.7],[2,98.9],[3.2,97.4],[4.4,97.9],[5.4,98.7],[6.9,98.7],[7.9,93.1],[9.1,92],[10.4,92.6],[12,92.9],[12.8,95],[14.3,94.8],[15.8,94.8],[17,95.6],[18.2,94.1],[19.2,94.7],[20.2,93.9],[21.7,94.3],[23.2,94.1],[24.2,93.3],[25.1,94.7],[26.1,95.6],[27.6,93.9],[28.6,94.9],[30.1,94.9],[31.6,92.9],[33,92.3],[34.5,92.7],[36,92.9],[37,92.3],[38,94.3],[39,93.7],[39.9,90.6],[41.4,89.6],[42.9,90.4],[44.4,90.4],[45.9,90.4],[46.8,90.6],[48.1,91],[49.3,90.4],[50.3,90.2],[51.3,90.8],[52.3,92],[52.8,93.7],[54.2,93.5],[55.7,93.3],[56.7,92.5],[58.2,92],[59.7,90.8],[61.1,90.6],[62.1,95.8],[63.6,94.9],[65.1,93.1],[66.1,89.2],[67.6,88.7],[68.8,87.9],[70,88.3],[71.5,89.4],[73,89.8],[74.5,90.2],[75.9,90.6],[77.4,90.4],[78.4,91],[79.4,92],[80.9,93.3],[82.3,93.3],[82.9,92.9],[83.9,94.1],[84.9,93.1],[85.9,94.1],[86.9,93.3],[87.9,92.7],[88.9,90.2],[89.8,90.4],[90.8,91],[91.8,90.8],[93.3,90.2],[94.8,92.3],[95.8,91.8],[97.3,90.8],[98.3,90.8],[99.8,90.6],[101.3,91],[102.3,89.8],[103.3,90],[104.3,89.4],[105.3,91.4],[106.2,91.4],[107.2,92.3],[108.2,91],[109.7,90.6],[111.2,90.8],[112.7,90.2],[114.2,90],[115.7,89.6],[116.7,90],[118.2,91.8],[119.7,91.6],[121.2,90.4],[122.7,91.2],[123.6,90],[125.1,90],[126.6,90.8],[127.6,88.7],[129.1,88.1],[130.6,88.9],[132.1,89.6],[133.1,90.2],[134.1,89.8],[135.1,84.8],[136.1,86.7],[137.6,86.7],[138.6,86],[140.1,86],[141.5,84.8],[143,83.8],[144.5,82.9],[146,80.9],[147.5,79.8],[149,79.8],[150.5,80.2],[152,79.6],[153.5,80.5],[155,81.1],[156.5,80.9],[157.9,81.3],[159.4,81.3],[160.9,81.3],[162.4,81.5],[163.4,80.9],[164.2,77.6],[165.4,77.8],[166.4,77.3],[167.9,76.5],[169.4,76.1],[170.9,75.1],[171.9,76.3],[172.8,76.5],[174.3,76.7],[175.1,70.3],[176.3,69.9],[177.8,69.9],[178.6,70.1],[179.6,72],[180.6,71.6],[181.6,71.5],[183.1,72],[184.1,71.8],[185.1,72.6],[186,72.8],[187,72],[188,73.2],[189,74.2],[190,75.5],[191,75.9],[192.5,74.9],[194,74.9],[195.5,74.7],[197,75.1],[198,75.5],[199,75.1],[200,74.2],[201.5,74.4],[202.4,74],[203.9,74.5],[205.4,75.7],[206.4,75.7],[206.9,73.4],[208.4,74],[209.9,74.7],[211.4,74.7],[212.9,74.7],[214.4,74.7],[215.9,74.5],[216.9,75.1],[217.9,75.9],[219.3,76.3],[220.8,75.7],[222.3,75.7],[223.8,75.7],[225.3,76.1],[226.3,75.9],[227.3,77.1],[228.8,77.3],[229.8,78.4],[230.8,77.8],[231.8,78],[233.3,77.3],[234.7,76.3],[235.7,75.7],[236.7,76.5],[238.2,76.5],[239.7,76.7],[241.2,76.5],[242.7,76.5],[243.7,78.2],[244.7,78],[245.7,77.1],[247.2,77.4],[248.7,77.8],[250.2,77.6],[251.2,77.6],[252,78.4]];

const normalSeries=[nBlue,nOrange,nGreen,nRed,nPurple,nBrown,nPink,nGray];
const heavySeries=[tBlue,tOrange,tGreen,tRed,tPurple,tBrown,tPink,tGray];

const FONT='"DejaVu Sans", sans-serif';
const chart=echarts.init(document.getElementById('c'),null,{renderer:'canvas'});

function xAxisCfg(gi){
  return {type:'value',gridIndex:gi,min:-12.6,max:264.6,
    name:'Time (days)',nameLocation:'middle',nameGap:40,
    nameTextStyle:{fontSize:21,color:'#000',fontFamily:FONT},
    axisLine:{show:true,onZero:false,lineStyle:{color:'#000',width:1.6}},
    axisTick:{show:true,length:7,inside:false,lineStyle:{color:'#000',width:1.6},customValues:dayTicks},
    axisLabel:{show:true,fontSize:21,color:'#000',margin:12,fontFamily:FONT,customValues:dayTicks},
    splitLine:{show:false}};
}
function yAxisCfg(gi,min,max,ticks){
  return {type:'value',gridIndex:gi,min:min,max:max,
    name:'Price ($)',nameLocation:'middle',nameGap:64,
    nameTextStyle:{fontSize:21,color:'#000',fontFamily:FONT},
    axisLine:{show:true,onZero:false,lineStyle:{color:'#000',width:1.6}},
    axisTick:{show:true,length:7,inside:false,lineStyle:{color:'#000',width:1.6},customValues:ticks},
    axisLabel:{show:true,fontSize:21,color:'#000',margin:15,fontFamily:FONT,customValues:ticks},
    splitLine:{show:false}};
}

const series=[];
function addPanel(list,gi){
  list.forEach(function(arr,i){
    const s={type:'line',xAxisIndex:gi,yAxisIndex:gi,data:arr,showSymbol:false,symbol:'none',
      lineStyle:{color:seriesColors[i],width:2.9,opacity:0.75},itemStyle:{color:seriesColors[i]},
      animation:false,silent:true,z:2,clip:true};
    if(i===list.length-1){
      s.markLine={silent:true,symbol:['none','none'],animation:false,label:{show:false},
        lineStyle:{color:'#808080',type:[5,2.5],width:1.2,opacity:0.6},data:[{yAxis:100}]};
    }
    series.push(s);
  });
}
addPanel(normalSeries,0);
addPanel(heavySeries,1);

chart.setOption({
  backgroundColor:'#ffffff',
  animation:false,
  textStyle:{fontFamily:FONT},
  grid:[
    {left:106,top:107,width:933,height:556,show:true,borderColor:'#000',borderWidth:1.6,backgroundColor:'transparent',containLabel:false},
    {left:1145,top:107,width:933,height:556,show:true,borderColor:'#000',borderWidth:1.6,backgroundColor:'transparent',containLabel:false}
  ],
  xAxis:[xAxisCfg(0),xAxisCfg(1)],
  yAxis:[yAxisCfg(0,75.6,182.2,normalTicks),yAxisCfg(1,67.1,126.3,heavyTicks)],
  graphic:[
    {type:'text',x:1050,y:27,silent:true,style:{text:mainTitle,font:'bold 29px "DejaVu Sans"',fill:'#000',align:'center',verticalAlign:'middle',textAlign:'center',textVerticalAlign:'middle'}},
    {type:'text',x:572.5,y:87,silent:true,style:{text:leftTitle,font:'25px "DejaVu Sans"',fill:'#000',align:'center',verticalAlign:'middle',textAlign:'center',textVerticalAlign:'middle'}},
    {type:'text',x:1611.5,y:87,silent:true,style:{text:rightTitle,font:'25px "DejaVu Sans"',fill:'#000',align:'center',verticalAlign:'middle',textAlign:'center',textVerticalAlign:'middle'}}
  ],
  series:series
});
</script></body></html>
